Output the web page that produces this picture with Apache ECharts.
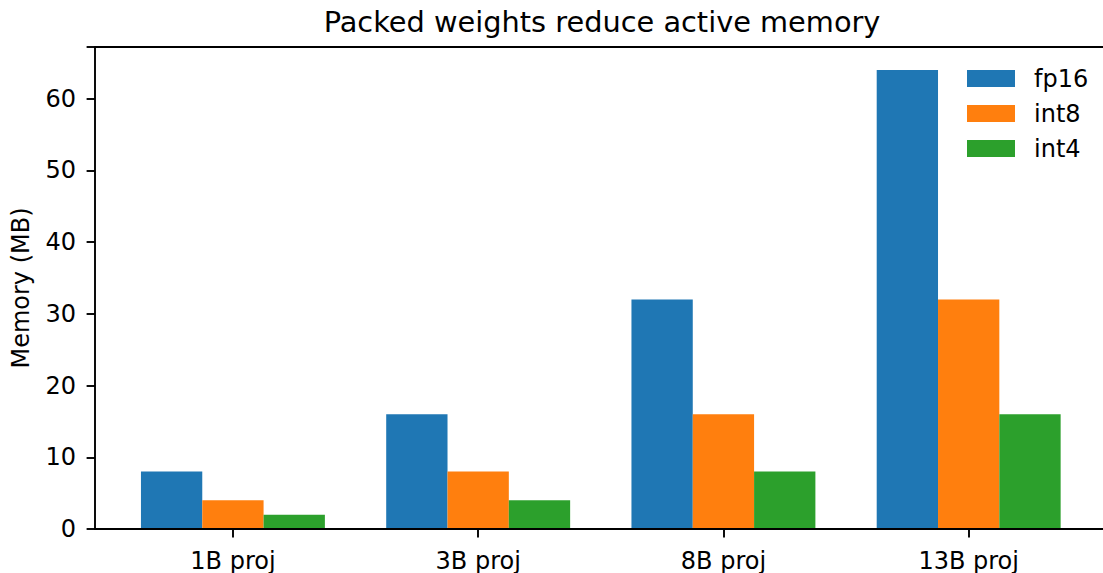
<!DOCTYPE html>
<html><head><meta charset="utf-8">
<script src="https://cdn.jsdelivr.net/npm/echarts@6/dist/echarts.min.js"></script>
<style>
html,body{margin:0;padding:0;background:#fff;overflow:hidden;width:1103px;height:573px}
#c{width:1103px;height:573px}
</style>
</head><body><div id="c"></div>
<script>
const categories = ['1B proj', '3B proj', '8B proj', '13B proj'];
const fp16 = [8, 16, 32, 64];
const int8 = [4, 8, 16, 32];
const int4 = [2, 4, 8, 16];
const yTicks = [0, 10, 20, 30, 40, 50, 60];
const titleText = 'Packed weights reduce active memory';
const yName = 'Memory (MB)';
const FONT = 'DejaVu Sans';
const chart = echarts.init(document.getElementById('c'), null, {renderer: 'svg'});
const lineStyle = {color: '#000', width: 1.9};
const yMax = 67.2;
chart.setOption({
  animation: false,
  textStyle: {fontFamily: FONT},
  graphic: [{type: 'text', x: 602, y: 22,
    style: {text: titleText, fontFamily: FONT, fontSize: 28.8, fill: '#000', textAlign: 'center', textVerticalAlign: 'middle'}}],
  legend: {orient: 'vertical', left: 962, top: 61.5, itemWidth: 48, itemHeight: 17, itemGap: 11,
    icon: 'rect',
    textStyle: {fontFamily: FONT, fontSize: 24, color: '#000', lineHeight: 17, padding: [0, 0, 0, 14]},
    data: ['fp16', 'int8', 'int4']},
  grid: [
    {left: 95, right: -4, top: 47, bottom: 44},
    {left: 110.3, right: 11.7, top: 47, bottom: 44}
  ],
  xAxis: [
    {type: 'value', gridIndex: 0, min: 0, max: 1, position: 'bottom', z: 10,
     axisLine: {show: true, lineStyle}, axisTick: {show: false}, axisLabel: {show: false}, splitLine: {show: false}},
    {type: 'value', gridIndex: 0, min: 0, max: 1, position: 'top', z: 10,
     axisLine: {show: true, lineStyle}, axisTick: {show: false}, axisLabel: {show: false}, splitLine: {show: false}},
    {type: 'category', gridIndex: 1, data: categories, position: 'bottom',
     axisLine: {show: false}, axisTick: {show: true, alignWithLabel: true, length: 8.4, lineStyle},
     axisLabel: {fontFamily: FONT, fontSize: 24, color: '#000', margin: 19.5}, splitLine: {show: false}}
  ],
  yAxis: [
    {type: 'value', gridIndex: 0, min: 0, max: yMax, interval: 10, z: 10,
     name: yName, nameLocation: 'middle', nameGap: 62,
     nameTextStyle: {fontFamily: FONT, fontSize: 24, color: '#000'},
     axisLine: {show: true, lineStyle}, axisTick: {show: true, length: 8.4, lineStyle},
     axisLabel: {fontFamily: FONT, fontSize: 24, color: '#000', margin: 19, customValues: yTicks},
     splitLine: {show: false}},
    {type: 'value', gridIndex: 1, min: 0, max: yMax, show: false, splitLine: {show: false}}
  ],
  series: [
    {name: 'fp16', type: 'bar', xAxisIndex: 2, yAxisIndex: 1, data: fp16, barGap: '0%', barCategoryGap: '25%', itemStyle: {color: '#1f77b4'}},
    {name: 'int8', type: 'bar', xAxisIndex: 2, yAxisIndex: 1, data: int8, barGap: '0%', barCategoryGap: '25%', itemStyle: {color: '#ff7f0e'}},
    {name: 'int4', type: 'bar', xAxisIndex: 2, yAxisIndex: 1, data: int4, barGap: '0%', barCategoryGap: '25%', itemStyle: {color: '#2ca02c'}}
  ]
});
</script></body></html>
